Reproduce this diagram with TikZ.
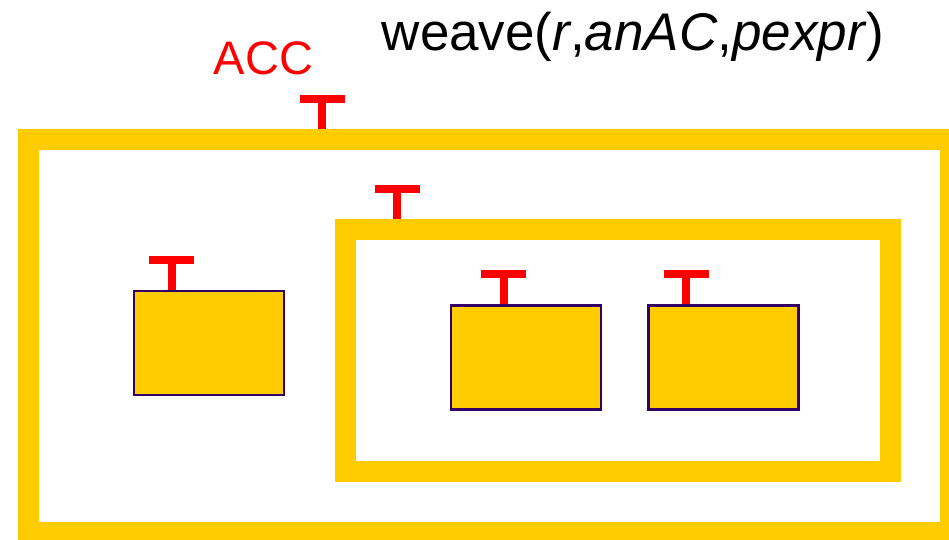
\documentclass[tikz,border=0pt]{standalone}
\usepackage{fontspec}
\setmainfont{Liberation Sans}
\usetikzlibrary{positioning, calc}
\definecolor{accRed}{HTML}{FF0000}
\definecolor{frameYellow}{HTML}{FFCC00}
\definecolor{boxPurple}{HTML}{330066}
\tikzset{
  frameBig/.style={rectangle, draw=frameYellow, line width=21pt, inner sep=0pt},
  joinBox/.style={rectangle, draw=boxPurple, fill=frameYellow, line width=2.5pt,
                  inner sep=0pt, minimum width=150pt, minimum height=104pt},
  accLabel/.style={text=accRed, font=\fontsize{47}{47}\selectfont, inner sep=0pt, anchor=base},
  callLabel/.style={text=black, font=\fontsize{53}{53}\selectfont, inner sep=0pt, anchor=base},
  tmark/.pic={
    \fill[accRed] (-4,0) rectangle (4,-34);
    \fill[accRed] (-22.5,-26) rectangle (22.5,-34);
  },
}

\begin{document}
\begin{tikzpicture}[x=1pt, y=-1pt, node distance=45pt]
    \useasboundingbox (0,0) rectangle (949,539);
    % frames
    \node[frameBig, minimum width=921.5pt, minimum height=393pt] (outer) at (489.25,335.5) {};
    \node[frameBig, minimum width=544.5pt, minimum height=242.5pt] (inner) at (617.75,350.25) {};
    % boxes
    \node[joinBox] (b1) at (209,343) {};
    \node[joinBox] (b2) at (526,357.5) {};
    \node[joinBox, right=of b2] (b3) {};
    % T markers
    \pic at ($(outer.north west)+(304,0)$) {tmark};
    \pic at ($(inner.north west)+(62,0)$) {tmark};
    \pic at ($(b1.north west)+(39,0)$) {tmark};
    \pic at ($(b2.north west)+(54,0)$) {tmark};
    \pic at ($(b3.north west)+(39,0)$) {tmark};
    % labels
    \node[accLabel] (acc) at (263.5,74) {ACC};
    \node[callLabel] (call) at (633,50) {weave(\textit{r},\textit{anAC},\textit{pexpr})};
\end{tikzpicture}
\end{document}
